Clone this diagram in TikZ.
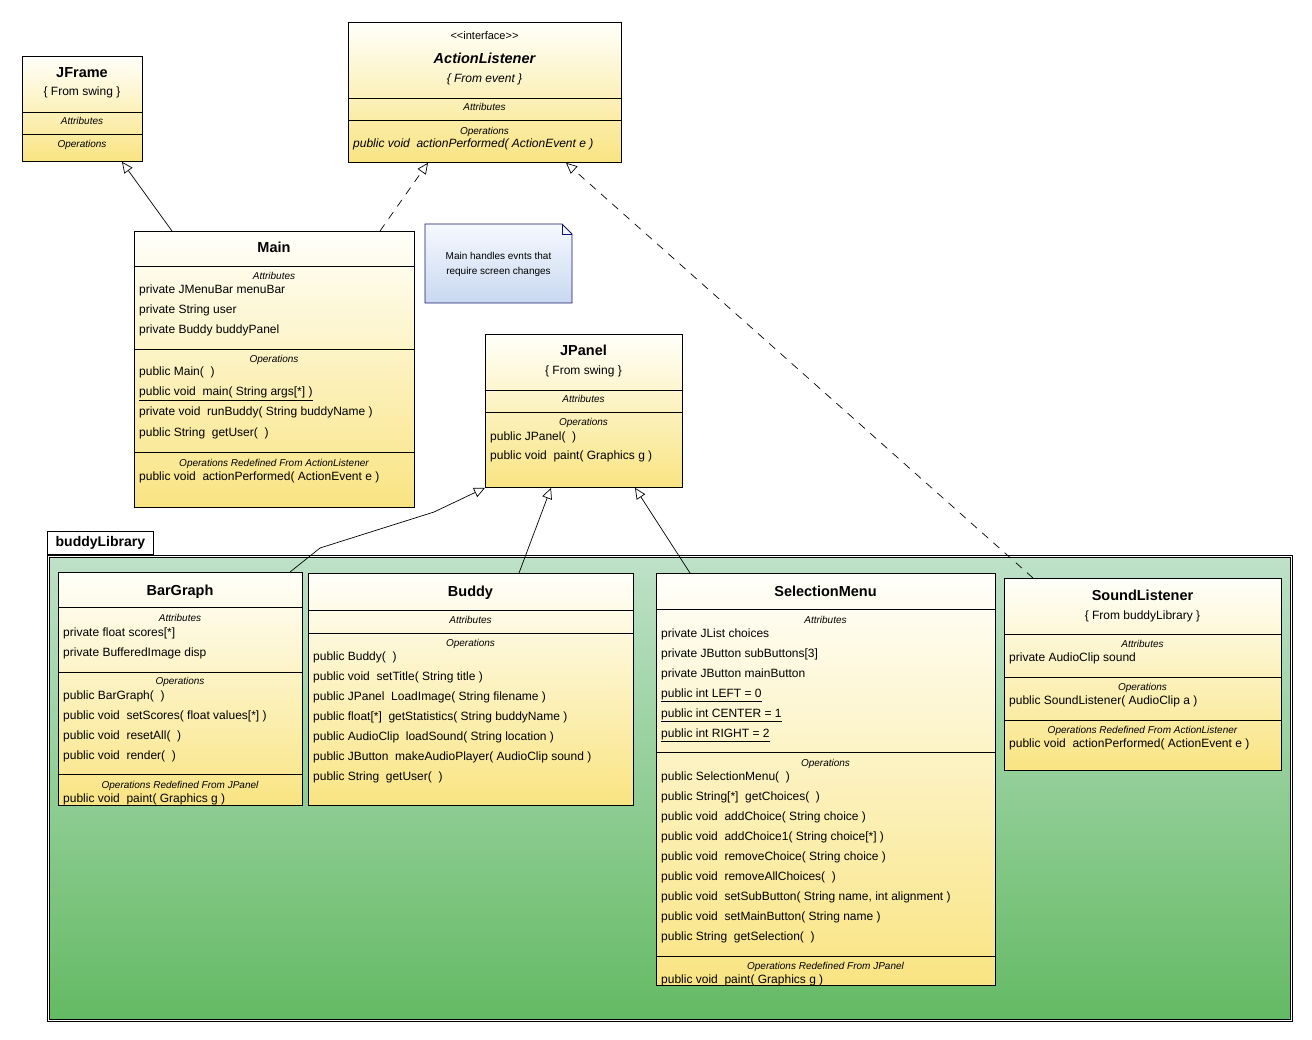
\documentclass[tikz,border=0pt]{standalone}
\usepackage{fontspec}
\setmainfont{Liberation Sans}
\usetikzlibrary{arrows.meta,calc}

\definecolor{boxtop}{RGB}{255,255,250}
\definecolor{boxbot}{RGB}{249,228,130}
\definecolor{pkgtop}{RGB}{190,225,200}
\definecolor{pkgbot}{RGB}{100,186,100}
\definecolor{notetop}{RGB}{246,249,255}
\definecolor{notebot}{RGB}{200,216,240}
\definecolor{noteline}{RGB}{20,20,110}

\tikzset{
  classbox/.style={draw=black, line width=0.8pt, top color=boxtop, bottom color=boxbot,
    anchor=north west, inner sep=0pt},
  sepline/.style={draw=black, line width=0.8pt},
  title/.style={font=\fontsize{14.5}{16}\selectfont\bfseries, anchor=base, inner sep=0pt},
  subtitle/.style={font=\fontsize{12}{14}\selectfont, anchor=base, inner sep=0pt},
  heading/.style={font=\fontsize{10}{12}\selectfont\itshape, anchor=base, inner sep=0pt},
  member/.style={font=\fontsize{12}{14}\selectfont, anchor=base west, inner sep=0pt},
  pkgbody/.style={anchor=north west, inner sep=0pt, top color=pkgtop, bottom color=pkgbot},
  pkgframe/.style={draw=black, line width=0.8pt},
  pkgtab/.style={anchor=north west, inner sep=0pt, draw=black, line width=0.8pt, fill=white,
    font=\fontsize{14}{16}\selectfont\bfseries},
  gen/.style={draw=black, line width=0.7pt,
    -{Triangle[open, length=11pt, width=10pt, line width=0.7pt]}},
  real/.style={gen, dash pattern=on 8pt off 7pt},
  notetext/.style={font=\fontsize{10}{15}\selectfont, align=center, inner sep=0pt},
}

% horizontal compartment separator across a class box
\newcommand\hsep[2]{\draw[sepline] (#1.west |- 0,#2) -- (#1.east |- 0,#2);}

\begin{document}
\begin{tikzpicture}[x=1pt, y=-1pt]
\useasboundingbox (0,0) rectangle (1312,1040);
\fill[white] (0,0) rectangle (1312,1040);

% ---------------- package buddyLibrary ----------------
\node[pkgbody, minimum width=1240pt, minimum height=461pt] (pkg) at (49.5,557.5) {};
% double frame of the package body
\draw[pkgframe] ([xshift=-2.5pt,yshift=2.5pt]pkg.north west) rectangle ([xshift=2.5pt,yshift=-2.5pt]pkg.south east);
\draw[pkgframe] ([xshift=-0.2pt,yshift=0.2pt]pkg.north west) rectangle ([xshift=0.2pt,yshift=-0.2pt]pkg.south east);
\node[pkgtab, minimum width=106pt, minimum height=23pt] (pkgtab) at (47,531) {buddyLibrary};

% ---------------- JFrame ----------------
\node[classbox, minimum width=120pt, minimum height=105pt] (jframe) at (22,56) {};
\hsep{jframe}{112} \hsep{jframe}{134}
\node[title] (jframe-t) at (82,78) {JFrame};
\node[subtitle] (jframe-s) at (82,96) {\{ From swing \}};
\node[heading] (jframe-a) at (82,124.5) {Attributes};
\node[heading] (jframe-o) at (82,147.5) {Operations};

% ---------------- ActionListener ----------------
\node[classbox, minimum width=273pt, minimum height=140pt] (al) at (348,22) {};
\hsep{al}{98} \hsep{al}{120}
\node[subtitle, font=\fontsize{11}{13}\selectfont] (al-st) at (484.5,40) {<{}<interface>{}>};
\node[title, font=\fontsize{14.5}{16}\selectfont\bfseries\itshape] (al-t) at (484.5,64) {ActionListener};
\node[subtitle, font=\fontsize{12}{14}\selectfont\itshape] (al-s) at (484.5,83) {\{ From event \}};
\node[heading] (al-a) at (484.5,110.5) {Attributes};
\node[heading] (al-o) at (484.5,134.5) {Operations};
\node[member, font=\fontsize{12}{14}\selectfont\itshape] (al-o1) at (353,148) {public void~ actionPerformed( ActionEvent e )};

% ---------------- Main ----------------
\node[classbox, minimum width=280pt, minimum height=276pt] (main) at (134,231) {};
\hsep{main}{266} \hsep{main}{349} \hsep{main}{452}
\node[title] (main-t) at (274,253) {Main};
\node[heading] (main-a) at (274,279.5) {Attributes};
\node[member] (main-a1) at (139,294) {private JMenuBar menuBar};
\node[member] (main-a2) at (139,314) {private String user};
\node[member] (main-a3) at (139,334) {private Buddy buddyPanel};
\node[heading] (main-o) at (274,362.5) {Operations};
\node[member] (main-o1) at (139,376) {public Main(~ )};
\node[member] (main-o2) at (139,396) {\underline{public void~ main( String args[*] )}};
\node[member] (main-o3) at (139,416) {private void~ runBuddy( String buddyName )};
\node[member] (main-o4) at (139,436) {public String~ getUser(~ )};
\node[heading] (main-r) at (274,466.5) {Operations Redefined From ActionListener};
\node[member] (main-r1) at (139,480) {public void~ actionPerformed( ActionEvent e )};

% ---------------- note ----------------
\shade[top color=notetop, bottom color=notebot, draw=noteline, line width=0.8pt]
  (425,224) -- (562,224) -- (572,234) -- (572,303) -- (425,303) -- cycle;
\draw[noteline, line width=0.8pt] (562,224) -- (562,234) -- (572,234);
\node[notetext] (note) at (498.5,264.5) {Main handles evnts that\\require screen changes};

% ---------------- JPanel ----------------
\node[classbox, minimum width=197pt, minimum height=153pt] (jpanel) at (485,334) {};
\hsep{jpanel}{390} \hsep{jpanel}{412}
\node[title] (jpanel-t) at (583.5,356) {JPanel};
\node[subtitle] (jpanel-s) at (583.5,375) {\{ From swing \}};
\node[heading] (jpanel-a) at (583.5,402.5) {Attributes};
\node[heading] (jpanel-o) at (583.5,425.5) {Operations};
\node[member] (jpanel-o1) at (490,440) {public JPanel(~ )};
\node[member] (jpanel-o2) at (490,460) {public void~ paint( Graphics g )};

% ---------------- BarGraph ----------------
\node[classbox, minimum width=244pt, minimum height=233pt] (bar) at (58,572) {};
\hsep{bar}{607} \hsep{bar}{672} \hsep{bar}{774}
\node[title] (bar-t) at (180,595) {BarGraph};
\node[heading] (bar-a) at (180,621.5) {Attributes};
\node[member] (bar-a1) at (63,636) {private float scores[*]};
\node[member] (bar-a2) at (63,656) {private BufferedImage disp};
\node[heading] (bar-o) at (180,684.5) {Operations};
\node[member] (bar-o1) at (63,699) {public BarGraph(~ )};
\node[member] (bar-o2) at (63,719) {public void~ setScores( float values[*] )};
\node[member] (bar-o3) at (63,739) {public void~ resetAll(~ )};
\node[member] (bar-o4) at (63,759) {public void~ render(~ )};
\node[heading] (bar-r) at (180,788.5) {Operations Redefined From JPanel};
\node[member] (bar-r1) at (63,802) {public void~ paint( Graphics g )};

% ---------------- Buddy ----------------
\node[classbox, minimum width=325pt, minimum height=232pt] (buddy) at (308,573) {};
\hsep{buddy}{610} \hsep{buddy}{633}
\node[title] (buddy-t) at (470.5,596) {Buddy};
\node[heading] (buddy-a) at (470.5,623.5) {Attributes};
\node[heading] (buddy-o) at (470.5,646.5) {Operations};
\node[member] (buddy-o1) at (313,660) {public Buddy(~ )};
\node[member] (buddy-o2) at (313,680) {public void~ setTitle( String title )};
\node[member] (buddy-o3) at (313,700) {public JPanel~ LoadImage( String filename )};
\node[member] (buddy-o4) at (313,720) {public float[*]~ getStatistics( String buddyName )};
\node[member] (buddy-o5) at (313,740) {public AudioClip~ loadSound( String location )};
\node[member] (buddy-o6) at (313,760) {public JButton~ makeAudioPlayer( AudioClip sound )};
\node[member] (buddy-o7) at (313,780) {public String~ getUser(~ )};

% ---------------- SelectionMenu ----------------
\node[classbox, minimum width=339pt, minimum height=412pt] (sel) at (656,573) {};
\hsep{sel}{609} \hsep{sel}{752} \hsep{sel}{956}
\node[title] (sel-t) at (825.5,596) {SelectionMenu};
\node[heading] (sel-a) at (825.5,623.5) {Attributes};
\node[member] (sel-a1) at (661,637) {private JList choices};
\node[member] (sel-a2) at (661,657) {private JButton subButtons[3]};
\node[member] (sel-a3) at (661,677) {private JButton mainButton};
\node[member] (sel-a4) at (661,697) {\underline{public int LEFT = 0}};
\node[member] (sel-a5) at (661,717) {\underline{public int CENTER = 1}};
\node[member] (sel-a6) at (661,737) {\underline{public int RIGHT = 2}};
\node[heading] (sel-o) at (825.5,766.5) {Operations};
\node[member] (sel-o1) at (661,780) {public SelectionMenu(~ )};
\node[member] (sel-o2) at (661,800) {public String[*]~ getChoices(~ )};
\node[member] (sel-o3) at (661,820) {public void~ addChoice( String choice )};
\node[member] (sel-o4) at (661,840) {public void~ addChoice1( String choice[*] )};
\node[member] (sel-o5) at (661,860) {public void~ removeChoice( String choice )};
\node[member] (sel-o6) at (661,880) {public void~ removeAllChoices(~ )};
\node[member] (sel-o7) at (661,900) {public void~ setSubButton( String name, int alignment )};
\node[member] (sel-o8) at (661,920) {public void~ setMainButton( String name )};
\node[member] (sel-o9) at (661,940) {public String~ getSelection(~ )};
\node[heading] (sel-r) at (825.5,969.5) {Operations Redefined From JPanel};
\node[member] (sel-r1) at (661,983) {public void~ paint( Graphics g )};

% ---------------- SoundListener ----------------
\node[classbox, minimum width=277pt, minimum height=192pt] (snd) at (1004,578) {};
\hsep{snd}{634} \hsep{snd}{677} \hsep{snd}{720}
\node[title] (snd-t) at (1142.5,600) {SoundListener};
\node[subtitle] (snd-s) at (1142.5,619) {\{ From buddyLibrary \}};
\node[heading] (snd-a) at (1142.5,647.5) {Attributes};
\node[member] (snd-a1) at (1009,661) {private AudioClip sound};
\node[heading] (snd-o) at (1142.5,690.5) {Operations};
\node[member] (snd-o1) at (1009,704) {public SoundListener( AudioClip a )};
\node[heading] (snd-r) at (1142.5,733.5) {Operations Redefined From ActionListener};
\node[member] (snd-r1) at (1009,747) {public void~ actionPerformed( ActionEvent e )};

% ---------------- generalisations and realisations ----------------
\coordinate (barbend1) at (320,548);
\coordinate (barbend2) at (434,512);
\draw[gen] ([xshift=38pt]main.north west) -- ([xshift=100pt]jframe.south west);
\draw[real] ([xshift=246pt]main.north west) -- ([xshift=80pt]al.south west);
\draw[real] ([xshift=29pt]snd.north west) -- ([xshift=218pt]al.south west);
\draw[gen] ([xshift=232pt]bar.north west) -- (barbend1) -- (barbend2) -- (jpanel.south west);
\draw[gen] ([xshift=211pt]buddy.north west) -- ([xshift=66pt]jpanel.south west);
\draw[gen] ([xshift=34pt]sel.north west) -- ([xshift=150pt]jpanel.south west);
\end{tikzpicture}
\end{document}
